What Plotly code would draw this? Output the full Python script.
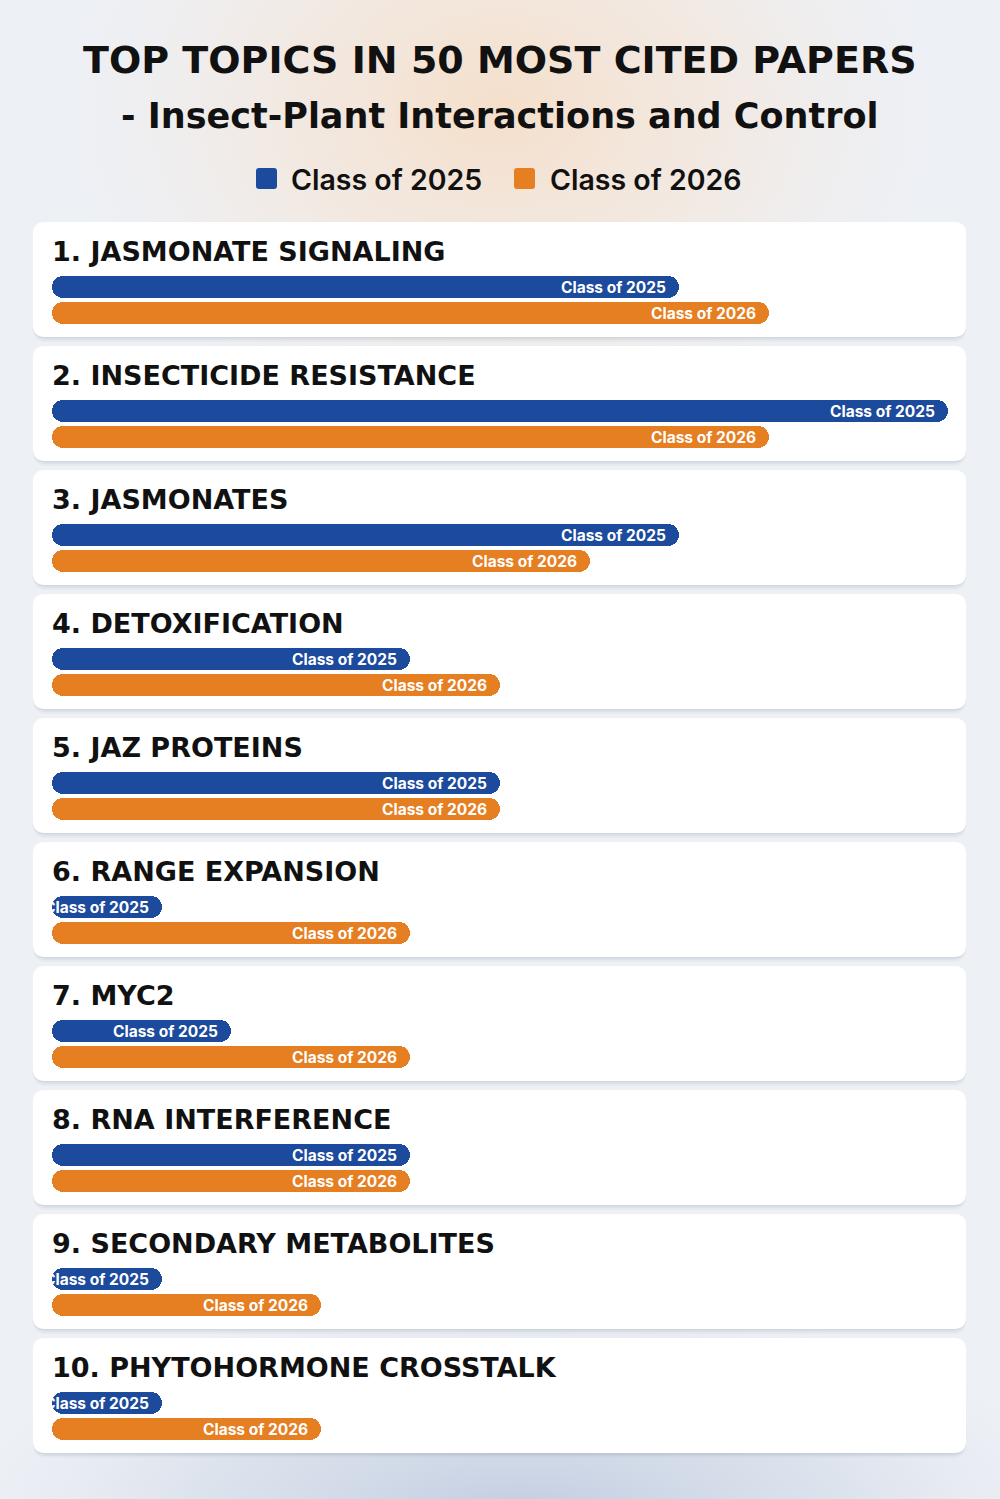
import urllib.parse
import plotly.graph_objects as go

# ---------------- data ----------------
topics = [
    "1. JASMONATE SIGNALING",
    "2. INSECTICIDE RESISTANCE",
    "3. JASMONATES",
    "4. DETOXIFICATION",
    "5. JAZ PROTEINS",
    "6. RANGE EXPANSION",
    "7. MYC2",
    "8. RNA INTERFERENCE",
    "9. SECONDARY METABOLITES",
    "10. PHYTOHORMONE CROSSTALK",
]
class_2025 = [7, 10, 7, 4, 5, 1, 2, 4, 1, 1]
class_2026 = [8, 8, 6, 5, 5, 4, 4, 4, 3, 3]
series_names = ["Class of 2025", "Class of 2026"]
series_colors = ["#1c4a9c", "#e67e22"]

title_line1 = "TOP TOPICS IN 50 MOST CITED PAPERS"
title_line2 = "- Insect-Plant Interactions and Control"

# ---------------- layout constants ----------------
W, H = 1000, 1499
X0_PX, UNIT_PX = 52, 89.6          # value 0 at 52px, 89.6px per unit
MIN_BAR_PX = 110                   # renderer keeps tiny bars wide enough for a label
CARD_TOP0, CARD_STEP, CARD_H = 222, 124, 115
CARD_L, CARD_R = 33, 966
BAR_H = 22
FONT = "Inter, 'Open Sans', sans-serif"
HEAD_FONT = "'DejaVu Sans', Inter, sans-serif"

x_range = [-X0_PX / UNIT_PX, (W - X0_PX) / UNIT_PX]
min_units = MIN_BAR_PX / UNIT_PX


def py(p):  # pixel y -> paper y
    return 1 - p / H


def px(p):  # pixel x -> paper x
    return p / W


def rounded_path(x0, y0, x1, y1, r):
    X0, X1 = px(x0), px(x1)
    Y0, Y1 = py(y0), py(y1)
    rx, ry = r / W, r / H
    return (f"M{X0+rx},{Y0} L{X1-rx},{Y0} Q{X1},{Y0} {X1},{Y0-ry} "
            f"L{X1},{Y1+ry} Q{X1},{Y1} {X1-rx},{Y1} L{X0+rx},{Y1} "
            f"Q{X0},{Y1} {X0},{Y1+ry} L{X0},{Y0-ry} Q{X0},{Y0} {X0+rx},{Y0} Z")


fig = go.Figure()

shapes = []
annotations = []

# background gradient as an SVG image
svg = f"""<svg xmlns='http://www.w3.org/2000/svg' width='{W}' height='{H}' viewBox='0 0 {W} {H}'>
<defs>
<radialGradient id='top' cx='500' cy='110' r='440' gradientUnits='userSpaceOnUse' gradientTransform='translate(500 110) scale(1 0.75) translate(-500 -110)'>
<stop offset='0' stop-color='#f5dfca' stop-opacity='1'/>
<stop offset='0.5' stop-color='#f4e6da' stop-opacity='0.7'/>
<stop offset='1' stop-color='#f3ece8' stop-opacity='0'/>
</radialGradient>
<radialGradient id='bot' cx='520' cy='1520' r='560' gradientUnits='userSpaceOnUse' gradientTransform='translate(520 1520) scale(1 0.4) translate(-520 -1520)'>
<stop offset='0' stop-color='#c0cce0' stop-opacity='1'/>
<stop offset='0.6' stop-color='#d3dbe8' stop-opacity='0.6'/>
<stop offset='1' stop-color='#dfe4ee' stop-opacity='0'/>
</radialGradient>
</defs>
<rect width='{W}' height='{H}' fill='#edf0f5'/>
<rect width='{W}' height='{H}' fill='url(#top)'/>
<rect width='{W}' height='{H}' fill='url(#bot)'/>
</svg>"""
bg_uri = "data:image/svg+xml;charset=utf-8," + urllib.parse.quote(svg)

# cards
for i, _ in enumerate(topics):
    top = CARD_TOP0 + i * CARD_STEP
    bot = top + CARD_H
    for off, alpha in [(5, 0.035), (3, 0.05), (1.5, 0.07)]:
        shapes.append(dict(type="path", xref="paper", yref="paper", layer="below",
                           path=rounded_path(CARD_L, top + off, CARD_R, bot + off, 14),
                           fillcolor=f"rgba(70,85,120,{alpha})", line=dict(width=0)))
    shapes.append(dict(type="path", xref="paper", yref="paper", layer="below",
                       path=rounded_path(CARD_L, top, CARD_R, bot, 12),
                       fillcolor="#ffffff", line=dict(width=0)))

# bars: each bar drawn as two overlapping halves so both ends get rounded corners
for s, (vals, name, color) in enumerate(zip([class_2025, class_2026], series_names, series_colors)):
    lengths = [max(v, min_units) for v in vals]
    ys = [CARD_TOP0 + i * CARD_STEP + 65 + s * 26 for i in range(len(vals))]
    fig.add_trace(go.Bar(
        orientation="h", y=ys, x=[0.7 * L for L in lengths], base=[0.3 * L for L in lengths],
        width=BAR_H, marker=dict(color=color, line=dict(width=0), cornerradius=11),
        name=name, customdata=vals, hovertemplate="%{customdata}<extra>" + name + "</extra>",
        showlegend=False))
    fig.add_trace(go.Bar(
        orientation="h", y=ys, x=[-0.7 * L for L in lengths], base=[0.7 * L for L in lengths],
        width=BAR_H, marker=dict(color=color, line=dict(width=0), cornerradius=11),
        name=name, hoverinfo="skip", showlegend=False))
    for L, y in zip(lengths, ys):
        annotations.append(dict(x=L, y=y, xref="x", yref="y", text=name, showarrow=False,
                                xanchor="right", yanchor="middle", xshift=-11,
                                font=dict(family=FONT, size=15.5, color="#ffffff", weight=700)))

# card titles
for i, t in enumerate(topics):
    top = CARD_TOP0 + i * CARD_STEP
    annotations.append(dict(x=px(50), y=top + 29, xref="paper", yref="y", text=t, showarrow=False,
                            xanchor="left", yanchor="middle",
                            font=dict(family=HEAD_FONT, size=27, color="#111111", weight=700)))

# titles
annotations.append(dict(x=0.5, y=60, xref="paper", yref="y", text=title_line1, showarrow=False,
                        xanchor="center", yanchor="middle",
                        font=dict(family=HEAD_FONT, size=38, color="#111111", weight=700)))
annotations.append(dict(x=0.5, y=116, xref="paper", yref="y", text=title_line2, showarrow=False,
                        xanchor="center", yanchor="middle",
                        font=dict(family=HEAD_FONT, size=35, color="#111111", weight=700)))

# custom legend
legend_items = [(256, 289), (514, 548)]
for (sq_x, tx), name, color in zip(legend_items, series_names, series_colors):
    shapes.append(dict(type="path", xref="paper", yref="paper", layer="above",
                       path=rounded_path(sq_x, 168, sq_x + 21, 189, 3),
                       fillcolor=color, line=dict(width=0)))
    annotations.append(dict(x=px(tx), y=179, xref="paper", yref="y", text=name, showarrow=False,
                            xanchor="left", yanchor="middle",
                            font=dict(family=FONT, size=28.5, color="#111111", weight=600)))

fig.update_layout(
    width=W, height=H,
    margin=dict(l=0, r=0, t=0, b=0),
    paper_bgcolor="#edf0f5", plot_bgcolor="rgba(0,0,0,0)",
    barmode="overlay", bargap=0,
    xaxis=dict(range=x_range, domain=[0, 1], visible=False, fixedrange=True),
    yaxis=dict(range=[H, 0], domain=[0, 1], visible=False, fixedrange=True),
    shapes=shapes, annotations=annotations,
    images=[dict(source=bg_uri, xref="paper", yref="paper", x=0, y=1, sizex=1, sizey=1,
                 xanchor="left", yanchor="top", sizing="stretch", layer="below")],
    showlegend=False,
)

fig.write_html("out.html")
